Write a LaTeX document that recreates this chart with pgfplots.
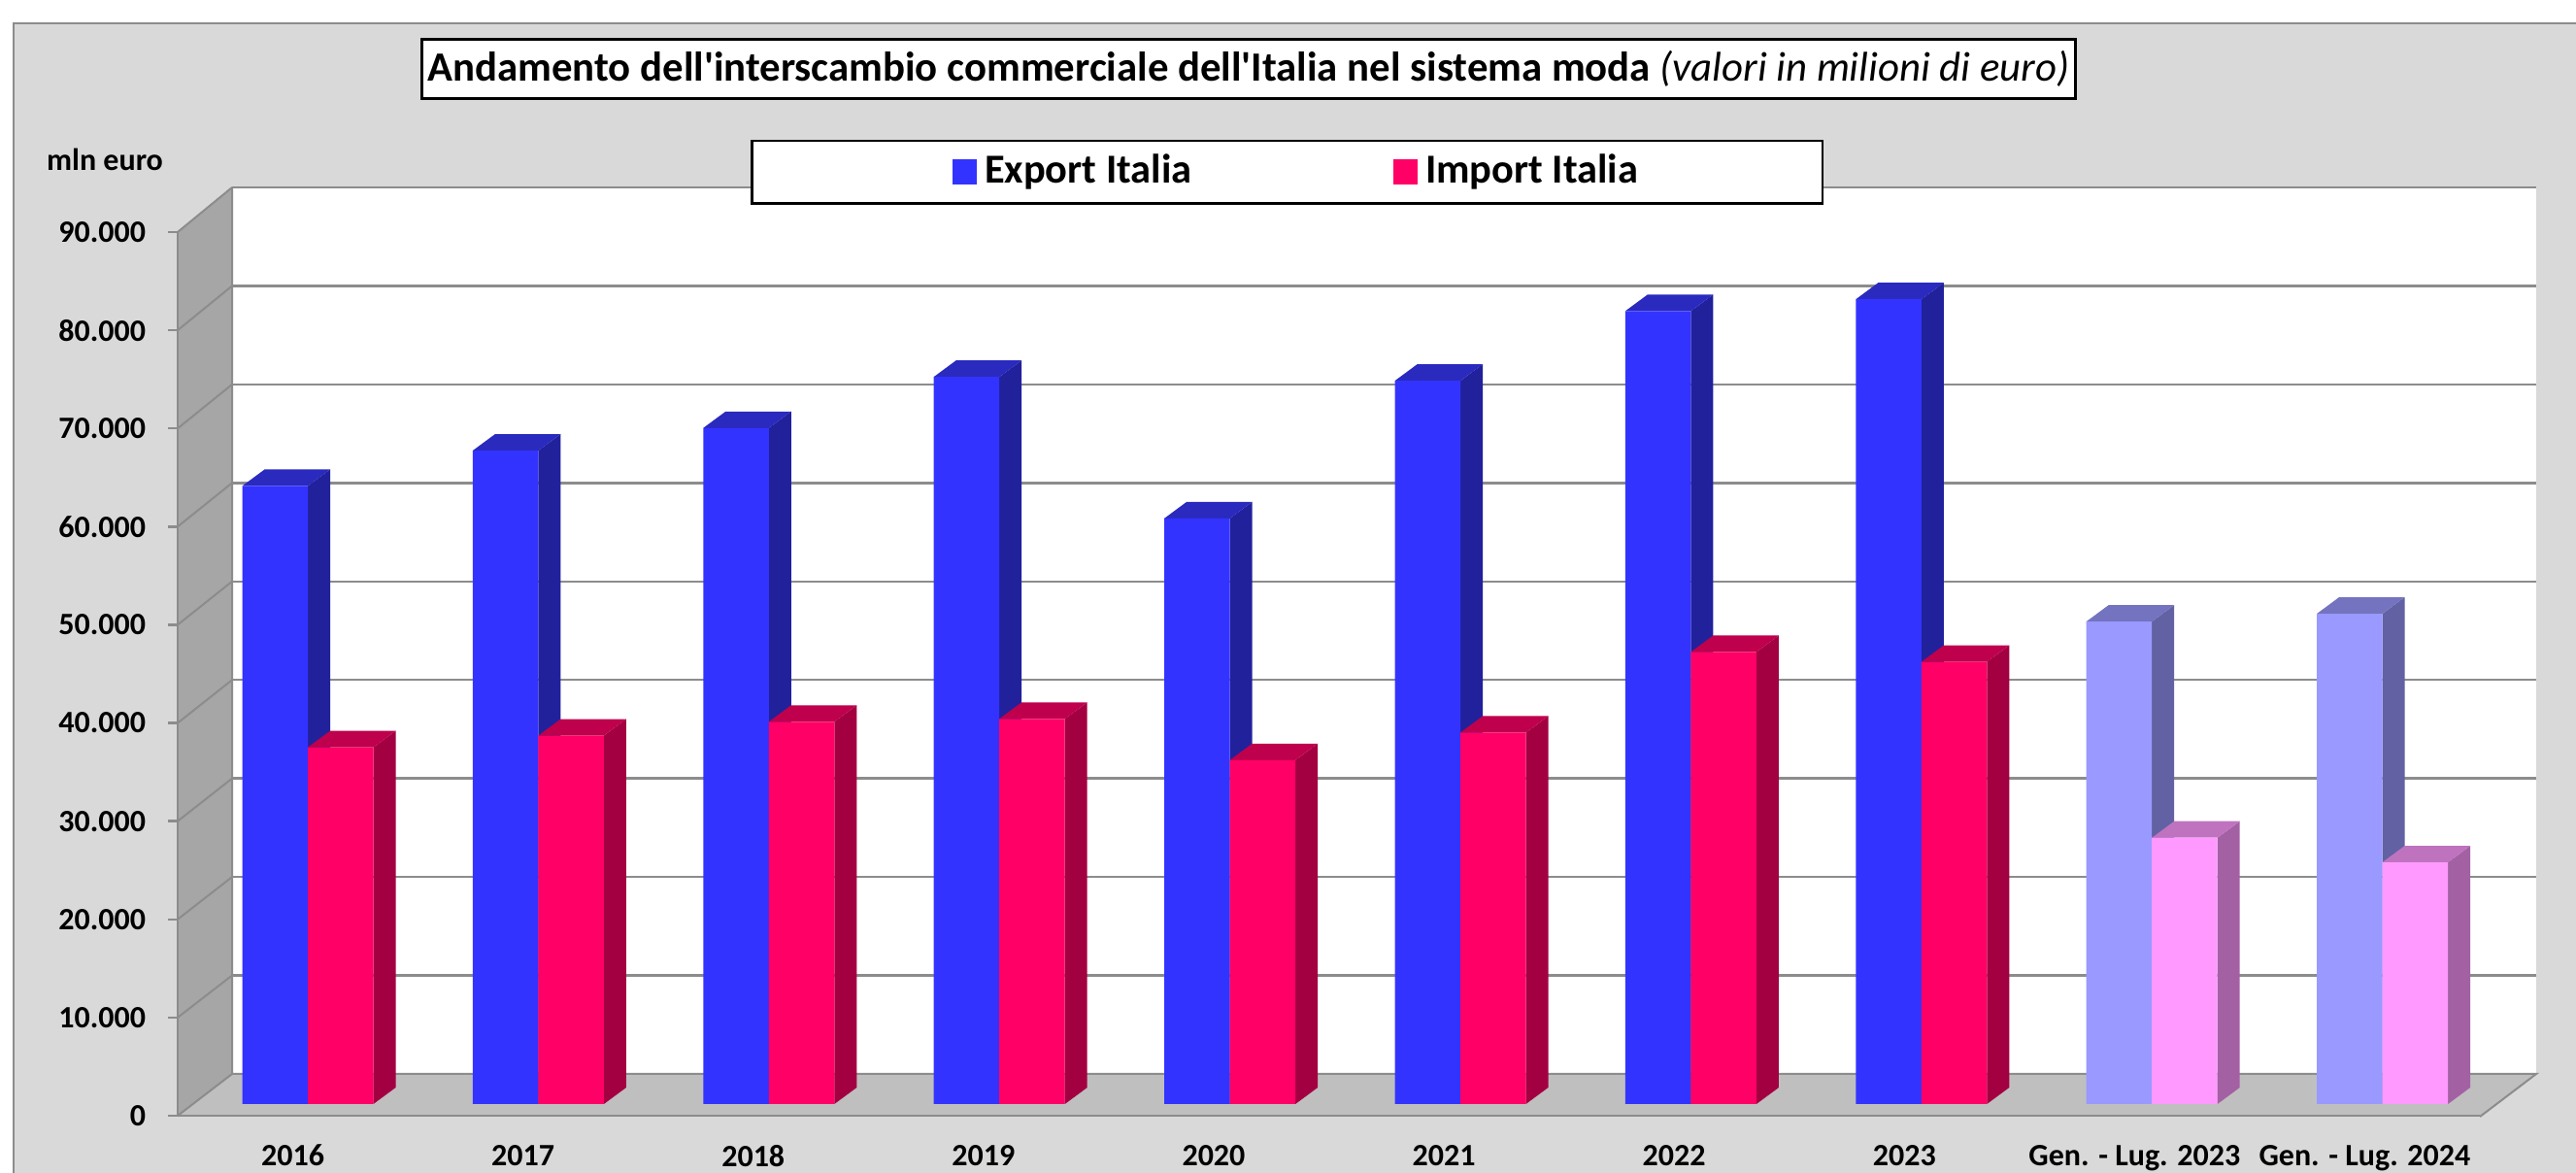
\documentclass[border=0pt]{standalone}
\usepackage{fontspec}
\usepackage{pgfplots}
\pgfplotsset{compat=1.18}
\newfontfamily\carlito{Carlito}
\definecolor{panel}{HTML}{D9D9D9}
\definecolor{edgeg}{HTML}{8C8C8C}
\definecolor{wallg}{HTML}{A6A6A6}
\definecolor{floorg}{HTML}{BFBFBF}
\definecolor{ex}{HTML}{3333FF}\definecolor{exs}{HTML}{21219C}\definecolor{ext}{HTML}{2A2ABF}
\definecolor{im}{HTML}{FF0066}\definecolor{ims}{HTML}{A30041}\definecolor{imt}{HTML}{BF004C}
\definecolor{lex}{HTML}{9999FF}\definecolor{lexs}{HTML}{6161A3}\definecolor{lext}{HTML}{7373BF}
\definecolor{lim}{HTML}{FF99FF}\definecolor{lims}{HTML}{A361A3}\definecolor{limt}{HTML}{BF73BF}
% #1 category, #2 value, #3 left edge of the right face relative to category, #4 side colour, #5 top colour
\newcommand\faces[5]{%
  \pgfmathsetmacro\xa{#1+#3-0.2843}%
  \pgfmathsetmacro\xb{#1+#3}%
  \pgfmathsetmacro\xc{#1+#3+0.0969}%
  \pgfmathsetmacro\xd{#1+#3-0.2843+0.0969}%
  \edef\yt{\the\numexpr#2+1680\relax}%
  \addplot[fill=#4,draw=none,forget plot] coordinates {(\xb,0) (\xc,1680) (\xc,\yt) (\xb,#2)} --cycle;
  \addplot[fill=#5,draw=none,forget plot] coordinates {(\xa,#2) (\xd,\yt) (\xc,\yt) (\xb,#2)} --cycle;
}
\begin{document}
\begin{tikzpicture}
\path[use as bounding box] (0,0) rectangle (663.25pt,302pt);
\begin{scope}[x=0.25pt,y=-0.25pt,yshift=302pt]
  \fill[white] (0,0) rectangle (2653,1208);
  \fill[panel] (14,24) rectangle (2653,1208);
  \draw[edgeg,line width=0.5pt] (14,1208) -- (14,24) -- (2653,24);
\end{scope}
% back wall with gridlines
\begin{axis}[
  at={(59.75pt,25.5pt)},anchor=south west,scale only axis,width=593.25pt,height=228.25pt,
  xmin=0,xmax=1,ymin=0,ymax=90000,xtick=\empty,ytick={0,10000,...,90000},yticklabels={},
  scaled y ticks=false,
  major tick length=0pt,axis line style={draw=none},ymajorgrids,
  grid style={draw=edgeg,line width=0.6pt},
  axis background/.style={fill=white}]
\end{axis}
% left wall and floor
\begin{scope}[x=0.25pt,y=-0.25pt,yshift=302pt]
  \fill[wallg] (183,239) -- (239,193) -- (239,1106) -- (183,1150) -- cycle;
  \fill[floorg] (183,1150) -- (239,1106) -- (2612,1106) -- (2554,1150) -- cycle;
  \foreach \k in {0,...,9}{
    \draw[edgeg,line width=0.5pt] (183,{1149-101.11*\k}) -- (239,{1106-101.44*\k});
  }
  \draw[edgeg,line width=0.5pt] (239,193) -- (239,1106) -- (2612,1106) -- (2554,1150);
\end{scope}
% bars
\begin{axis}[
  at={(45.75pt,17.75pt)},anchor=south west,scale only axis,width=592.75pt,height=227.7pt,
  xmin=-0.5645,xmax=9.423,ymin=0,ymax=90000,hide axis,clip=false,
  legend columns=2,
  legend style={at={(0.482,1.054)},anchor=center,draw=black,line width=0.6pt,fill=white,
    inner xsep=45.5pt,inner ysep=1.6pt,
    font=\carlito\bfseries\fontsize{10.6}{12}\selectfont,
    /tikz/every even column/.append style={column sep=49.8pt},
    cells={anchor=west}}]
\addlegendimage{legend image code/.code={\fill[white] (-6pt,-1pt) rectangle (0pt,1pt);\fill[ex] (0pt,-2.9pt) rectangle (5.75pt,2.9pt);}}
\addlegendentry{Export Italia}
\addlegendimage{legend image code/.code={\fill[im] (0pt,-2.9pt) rectangle (5.75pt,2.9pt);}}
\addlegendentry{Import Italia}
% export: side and top faces
\faces{0}{62900}{0}{exs}{ext}
\faces{1}{66500}{0}{exs}{ext}
\faces{2}{68800}{0}{exs}{ext}
\faces{3}{74000}{0}{exs}{ext}
\faces{4}{59600}{0}{exs}{ext}
\faces{5}{73600}{0}{exs}{ext}
\faces{6}{80700}{0}{exs}{ext}
\faces{7}{81900}{0}{exs}{ext}
\faces{8}{49100}{0}{lexs}{lext}
\faces{9}{49900}{0}{lexs}{lext}
% export: fronts
\addplot[ybar,bar width=0.2843,bar shift=-0.14215,fill=ex,draw=none,forget plot] coordinates
  {(0,62900) (1,66500) (2,68800) (3,74000) (4,59600) (5,73600) (6,80700) (7,81900)};
\addplot[ybar,bar width=0.2843,bar shift=-0.14215,fill=lex,draw=none,forget plot] coordinates
  {(8,49100) (9,49900)};
% import: side and top faces
\faces{0}{36300}{0.2843}{ims}{imt}
\faces{1}{37500}{0.2843}{ims}{imt}
\faces{2}{38900}{0.2843}{ims}{imt}
\faces{3}{39200}{0.2843}{ims}{imt}
\faces{4}{35000}{0.2843}{ims}{imt}
\faces{5}{37800}{0.2843}{ims}{imt}
\faces{6}{46000}{0.2843}{ims}{imt}
\faces{7}{45000}{0.2843}{ims}{imt}
\faces{8}{27100}{0.2843}{lims}{limt}
\faces{9}{24600}{0.2843}{lims}{limt}
% import: fronts
\addplot[ybar,bar width=0.2843,bar shift=0.14215,fill=im,draw=none,forget plot] coordinates
  {(0,36300) (1,37500) (2,38900) (3,39200) (4,35000) (5,37800) (6,46000) (7,45000)};
\addplot[ybar,bar width=0.2843,bar shift=0.14215,fill=lim,draw=none,forget plot] coordinates
  {(8,27100) (9,24600)};
\end{axis}
% front plane: ticks, labels, title
\begin{axis}[
  at={(45.75pt,14.75pt)},anchor=south west,scale only axis,width=592.75pt,height=227.5pt,
  xmin=0,xmax=10,ymin=0,ymax=90000,clip=false,
  axis x line*=bottom,axis y line*=left,
  axis line style={draw=edgeg,line width=0.7pt,-},
  tick align=outside,
  major tick length=2.5pt,
  ytick={0,10000,...,90000},
  scaled y ticks=false,
  y tick style={draw=edgeg,line width=0.6pt},
  x tick style={draw=none},
  xtick={0.5,1.5,...,9.5},
  xticklabels={2016,2017,2018,2019,2020,2021,2022,2023,{Gen. - Lug. 2023},{Gen. - Lug. 2024}},
  /pgf/number format/1000 sep={.},
  /pgf/number format/assume math mode=true,
  tick label style={font=\carlito\bfseries\fontsize{8}{10}\selectfont},
  ytick pos=left,xtick pos=bottom,
  yticklabel style={xshift=-2.2pt},
  xticklabel style={yshift=-1.5pt},
  ylabel={mln euro},
  every axis y label/.style={at={(rel axis cs:-0.0316,1.0824)},anchor=center,font=\carlito\bfseries\fontsize{8}{10}\selectfont},
  title={\textbf{Andamento dell'interscambio commerciale dell'Italia nel sistema moda} \textit{(valori in milioni di euro)}},
  title style={at={(rel axis cs:0.4652,1.1846)},anchor=center,yshift=-6pt,draw=black,line width=0.75pt,fill=white,
    font=\carlito\fontsize{10.7}{12}\selectfont,minimum width=425.75pt,minimum height=15.25pt,inner sep=0pt}]
\end{axis}
\end{tikzpicture}
\end{document}
